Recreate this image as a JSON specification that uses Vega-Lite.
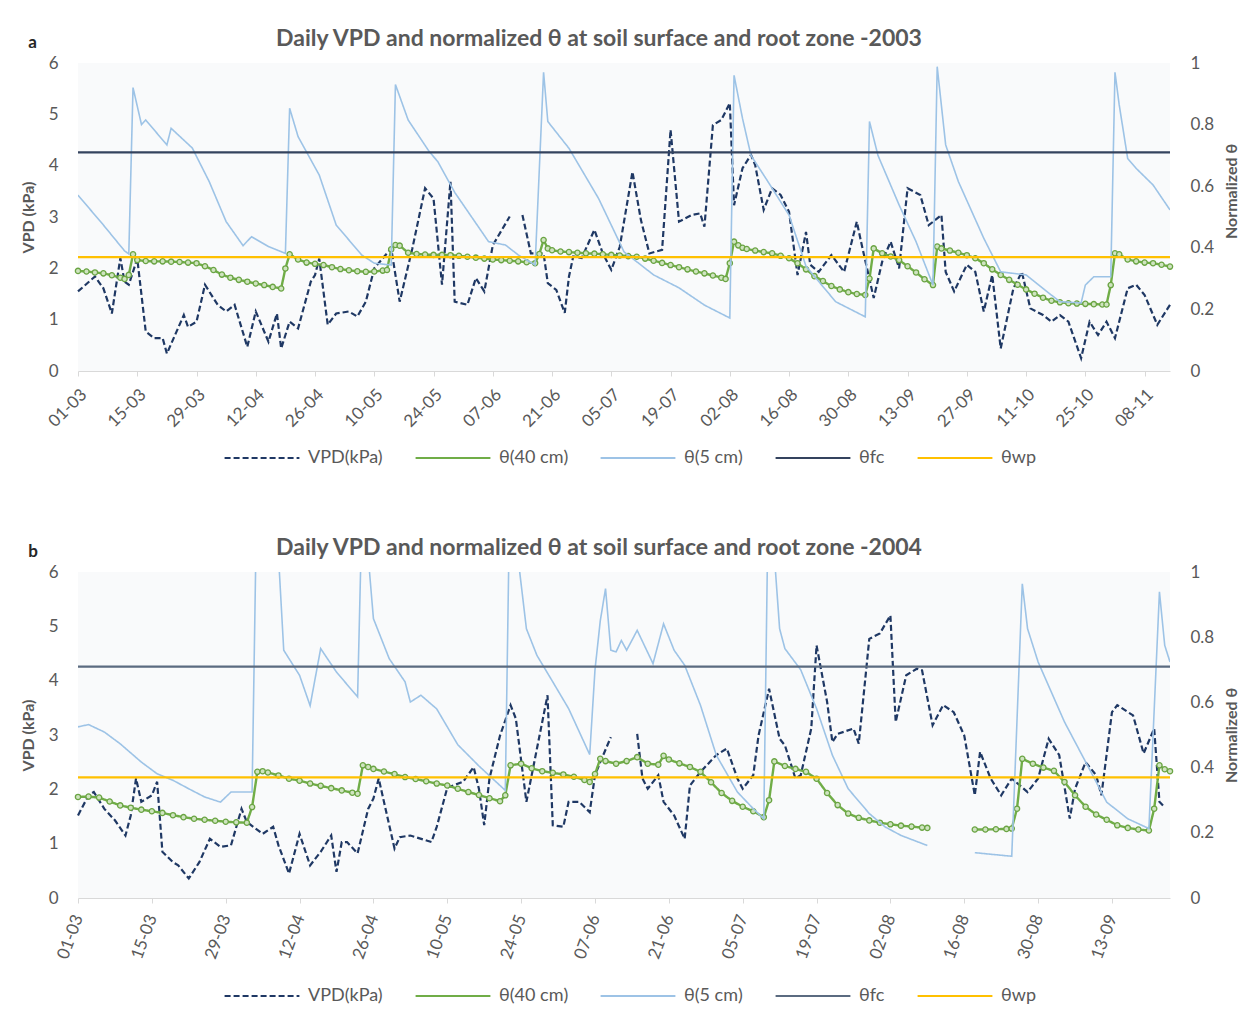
{
"$schema": "https://vega.github.io/schema/vega-lite/v6.json",
"background": "white",
"padding": {"left": 20, "right": 8, "top": 28, "bottom": 2},
"config": {
  "font": "Lato",
  "view": {"fill": "#f9fafb", "stroke": null},
  "axis": {"labelColor": "#595959", "titleColor": "#595959", "labelFontSize": 17, "titleFontSize": 16, "titleFontWeight": "bold", "grid": false, "labelFont": "Lato", "titleFont": "Lato"},
  "legend": {"orient": "bottom", "direction": "horizontal", "title": null, "symbolType": "stroke", "symbolSize": 5600, "symbolStrokeWidth": 2.2, "labelFontSize": 18, "labelColor": "#595959", "columnPadding": 28, "labelOffset": 7, "offset": 12, "labelFont": "Lato", "layout": {"bottom": {"anchor": "middle"}}},
  "title": {"font": "Lato", "fontSize": 23, "fontWeight": "bold", "color": "#595959", "anchor": "middle", "offset": 3},
  "concat": {"spacing": 70}
},
"datasets": {
"a": [
{"d":"2003-03-01","s":"V","v":1.55},{"d":"2003-03-05","s":"V","v":1.84},{"d":"2003-03-07","s":"V","v":1.61},{"d":"2003-03-09","s":"V","v":1.12},{"d":"2003-03-11","s":"V","v":2.2},{"d":"2003-03-12","s":"V","v":1.74},{"d":"2003-03-13","s":"V","v":1.68},{"d":"2003-03-15","s":"V","v":2.19},{"d":"2003-03-17","s":"V","v":0.77},{"d":"2003-03-19","s":"V","v":0.64},{"d":"2003-03-21","s":"V","v":0.64},{"d":"2003-03-22","s":"V","v":0.34},{"d":"2003-03-26","s":"V","v":1.09},{"d":"2003-03-27","s":"V","v":0.86},{"d":"2003-03-29","s":"V","v":0.96},{"d":"2003-03-31","s":"V","v":1.68},{"d":"2003-04-03","s":"V","v":1.29},{"d":"2003-04-05","s":"V","v":1.16},{"d":"2003-04-07","s":"V","v":1.29},{"d":"2003-04-10","s":"V","v":0.47},{"d":"2003-04-12","s":"V","v":1.16},{"d":"2003-04-15","s":"V","v":0.57},{"d":"2003-04-17","s":"V","v":1.12},{"d":"2003-04-18","s":"V","v":0.44},{"d":"2003-04-20","s":"V","v":0.96},{"d":"2003-04-22","s":"V","v":0.83},{"d":"2003-04-25","s":"V","v":1.74},{"d":"2003-04-26","s":"V","v":1.87},{"d":"2003-04-27","s":"V","v":2.19},{"d":"2003-04-29","s":"V","v":0.9},{"d":"2003-05-01","s":"V","v":1.12},{"d":"2003-05-04","s":"V","v":1.16},{"d":"2003-05-06","s":"V","v":1.06},{"d":"2003-05-08","s":"V","v":1.35},{"d":"2003-05-10","s":"V","v":2.0},{"d":"2003-05-14","s":"V","v":2.39},{"d":"2003-05-16","s":"V","v":1.35},{"d":"2003-05-19","s":"V","v":2.39},{"d":"2003-05-22","s":"V","v":3.56},{"d":"2003-05-24","s":"V","v":3.36},{"d":"2003-05-26","s":"V","v":1.68},{"d":"2003-05-28","s":"V","v":3.69},{"d":"2003-05-29","s":"V","v":1.35},{"d":"2003-06-01","s":"V","v":1.29},{"d":"2003-06-03","s":"V","v":1.81},{"d":"2003-06-05","s":"V","v":1.55},{"d":"2003-06-07","s":"V","v":2.45},{"d":"2003-06-11","s":"V","v":3.01},{"d":"2003-06-12","s":"V","v":null},{"d":"2003-06-14","s":"V","v":3.04},{"d":"2003-06-16","s":"V","v":2.29},{"d":"2003-06-19","s":"V","v":2.29},{"d":"2003-06-20","s":"V","v":1.71},{"d":"2003-06-22","s":"V","v":1.58},{"d":"2003-06-24","s":"V","v":1.13},{"d":"2003-06-25","s":"V","v":1.84},{"d":"2003-06-26","s":"V","v":2.23},{"d":"2003-06-28","s":"V","v":2.2},{"d":"2003-07-01","s":"V","v":2.75},{"d":"2003-07-03","s":"V","v":2.29},{"d":"2003-07-05","s":"V","v":1.97},{"d":"2003-07-07","s":"V","v":2.42},{"d":"2003-07-10","s":"V","v":3.88},{"d":"2003-07-12","s":"V","v":2.94},{"d":"2003-07-14","s":"V","v":2.29},{"d":"2003-07-17","s":"V","v":2.36},{"d":"2003-07-19","s":"V","v":4.7},{"d":"2003-07-21","s":"V","v":2.91},{"d":"2003-07-24","s":"V","v":3.04},{"d":"2003-07-26","s":"V","v":3.07},{"d":"2003-07-27","s":"V","v":2.81},{"d":"2003-07-29","s":"V","v":4.79},{"d":"2003-07-31","s":"V","v":4.89},{"d":"2003-08-02","s":"V","v":5.22},{"d":"2003-08-03","s":"V","v":3.23},{"d":"2003-08-05","s":"V","v":3.95},{"d":"2003-08-07","s":"V","v":4.21},{"d":"2003-08-08","s":"V","v":4.01},{"d":"2003-08-10","s":"V","v":3.14},{"d":"2003-08-12","s":"V","v":3.56},{"d":"2003-08-14","s":"V","v":3.43},{"d":"2003-08-16","s":"V","v":3.1},{"d":"2003-08-18","s":"V","v":1.87},{"d":"2003-08-20","s":"V","v":2.71},{"d":"2003-08-21","s":"V","v":2.07},{"d":"2003-08-23","s":"V","v":1.93},{"d":"2003-08-26","s":"V","v":2.26},{"d":"2003-08-29","s":"V","v":1.93},{"d":"2003-09-01","s":"V","v":2.91},{"d":"2003-09-02","s":"V","v":2.52},{"d":"2003-09-05","s":"V","v":1.42},{"d":"2003-09-07","s":"V","v":2.13},{"d":"2003-09-09","s":"V","v":2.52},{"d":"2003-09-11","s":"V","v":2.0},{"d":"2003-09-13","s":"V","v":3.56},{"d":"2003-09-16","s":"V","v":3.43},{"d":"2003-09-18","s":"V","v":2.84},{"d":"2003-09-21","s":"V","v":3.04},{"d":"2003-09-22","s":"V","v":1.93},{"d":"2003-09-24","s":"V","v":1.55},{"d":"2003-09-27","s":"V","v":2.07},{"d":"2003-09-29","s":"V","v":1.93},{"d":"2003-10-01","s":"V","v":1.16},{"d":"2003-10-03","s":"V","v":1.87},{"d":"2003-10-05","s":"V","v":0.44},{"d":"2003-10-08","s":"V","v":1.61},{"d":"2003-10-10","s":"V","v":1.93},{"d":"2003-10-12","s":"V","v":1.22},{"d":"2003-10-15","s":"V","v":1.09},{"d":"2003-10-17","s":"V","v":0.96},{"d":"2003-10-19","s":"V","v":1.09},{"d":"2003-10-21","s":"V","v":0.96},{"d":"2003-10-24","s":"V","v":0.25},{"d":"2003-10-26","s":"V","v":0.96},{"d":"2003-10-28","s":"V","v":0.7},{"d":"2003-10-30","s":"V","v":0.96},{"d":"2003-11-01","s":"V","v":0.64},{"d":"2003-11-04","s":"V","v":1.61},{"d":"2003-11-06","s":"V","v":1.68},{"d":"2003-11-08","s":"V","v":1.48},{"d":"2003-11-11","s":"V","v":0.9},{"d":"2003-11-14","s":"V","v":1.29},
{"d":"2003-03-01","s":"T5","v":0.571},{"d":"2003-03-07","s":"T5","v":0.474},{"d":"2003-03-12","s":"T5","v":0.39},{"d":"2003-03-13","s":"T5","v":0.38},{"d":"2003-03-14","s":"T5","v":0.92},{"d":"2003-03-16","s":"T5","v":0.8},{"d":"2003-03-17","s":"T5","v":0.815},{"d":"2003-03-22","s":"T5","v":0.734},{"d":"2003-03-23","s":"T5","v":0.788},{"d":"2003-03-28","s":"T5","v":0.724},{"d":"2003-04-01","s":"T5","v":0.615},{"d":"2003-04-05","s":"T5","v":0.485},{"d":"2003-04-09","s":"T5","v":0.407},{"d":"2003-04-11","s":"T5","v":0.436},{"d":"2003-04-15","s":"T5","v":0.404},{"d":"2003-04-19","s":"T5","v":0.382},{"d":"2003-04-20","s":"T5","v":0.853},{"d":"2003-04-22","s":"T5","v":0.761},{"d":"2003-04-27","s":"T5","v":0.636},{"d":"2003-05-01","s":"T5","v":0.474},{"d":"2003-05-07","s":"T5","v":0.377},{"d":"2003-05-10","s":"T5","v":0.35},{"d":"2003-05-14","s":"T5","v":0.344},{"d":"2003-05-15","s":"T5","v":0.93},{"d":"2003-05-18","s":"T5","v":0.815},{"d":"2003-05-23","s":"T5","v":0.712},{"d":"2003-05-25","s":"T5","v":0.68},{"d":"2003-05-29","s":"T5","v":0.58},{"d":"2003-06-06","s":"T5","v":0.42},{"d":"2003-06-10","s":"T5","v":0.409},{"d":"2003-06-13","s":"T5","v":0.377},{"d":"2003-06-17","s":"T5","v":0.344},{"d":"2003-06-19","s":"T5","v":0.97},{"d":"2003-06-20","s":"T5","v":0.81},{"d":"2003-06-25","s":"T5","v":0.723},{"d":"2003-07-02","s":"T5","v":0.56},{"d":"2003-07-08","s":"T5","v":0.387},{"d":"2003-07-15","s":"T5","v":0.312},{"d":"2003-07-21","s":"T5","v":0.27},{"d":"2003-07-27","s":"T5","v":0.214},{"d":"2003-08-02","s":"T5","v":0.172},{"d":"2003-08-03","s":"T5","v":0.96},{"d":"2003-08-05","s":"T5","v":0.82},{"d":"2003-08-07","s":"T5","v":0.7},{"d":"2003-08-11","s":"T5","v":0.615},{"d":"2003-08-16","s":"T5","v":0.506},{"d":"2003-08-20","s":"T5","v":0.34},{"d":"2003-08-27","s":"T5","v":0.225},{"d":"2003-09-03","s":"T5","v":0.176},{"d":"2003-09-04","s":"T5","v":0.81},{"d":"2003-09-06","s":"T5","v":0.7},{"d":"2003-09-11","s":"T5","v":0.539},{"d":"2003-09-15","s":"T5","v":0.42},{"d":"2003-09-19","s":"T5","v":0.279},{"d":"2003-09-20","s":"T5","v":0.988},{"d":"2003-09-22","s":"T5","v":0.734},{"d":"2003-09-25","s":"T5","v":0.615},{"d":"2003-10-01","s":"T5","v":0.431},{"d":"2003-10-05","s":"T5","v":0.322},{"d":"2003-10-11","s":"T5","v":0.312},{"d":"2003-10-16","s":"T5","v":0.257},{"d":"2003-10-19","s":"T5","v":0.225},{"d":"2003-10-24","s":"T5","v":0.221},{"d":"2003-10-25","s":"T5","v":0.279},{"d":"2003-10-27","s":"T5","v":0.306},{"d":"2003-10-31","s":"T5","v":0.306},{"d":"2003-11-01","s":"T5","v":0.97},{"d":"2003-11-02","s":"T5","v":0.864},{"d":"2003-11-04","s":"T5","v":0.69},{"d":"2003-11-06","s":"T5","v":0.658},{"d":"2003-11-10","s":"T5","v":0.604},{"d":"2003-11-14","s":"T5","v":0.523},
{"d":"2003-03-01","s":"T40","v":0.325},{"d":"2003-03-03","s":"T40","v":0.323},{"d":"2003-03-05","s":"T40","v":0.32},{"d":"2003-03-07","s":"T40","v":0.317},{"d":"2003-03-09","s":"T40","v":0.311},{"d":"2003-03-11","s":"T40","v":0.303},{"d":"2003-03-12","s":"T40","v":0.299},{"d":"2003-03-13","s":"T40","v":0.312},{"d":"2003-03-14","s":"T40","v":0.379},{"d":"2003-03-15","s":"T40","v":0.36},{"d":"2003-03-17","s":"T40","v":0.357},{"d":"2003-03-19","s":"T40","v":0.356},{"d":"2003-03-21","s":"T40","v":0.356},{"d":"2003-03-23","s":"T40","v":0.355},{"d":"2003-03-25","s":"T40","v":0.354},{"d":"2003-03-27","s":"T40","v":0.352},{"d":"2003-03-29","s":"T40","v":0.35},{"d":"2003-03-31","s":"T40","v":0.34},{"d":"2003-04-02","s":"T40","v":0.328},{"d":"2003-04-04","s":"T40","v":0.313},{"d":"2003-04-06","s":"T40","v":0.303},{"d":"2003-04-08","s":"T40","v":0.296},{"d":"2003-04-10","s":"T40","v":0.29},{"d":"2003-04-12","s":"T40","v":0.284},{"d":"2003-04-14","s":"T40","v":0.279},{"d":"2003-04-16","s":"T40","v":0.273},{"d":"2003-04-18","s":"T40","v":0.268},{"d":"2003-04-19","s":"T40","v":0.333},{"d":"2003-04-20","s":"T40","v":0.379},{"d":"2003-04-22","s":"T40","v":0.362},{"d":"2003-04-24","s":"T40","v":0.352},{"d":"2003-04-26","s":"T40","v":0.348},{"d":"2003-04-28","s":"T40","v":0.344},{"d":"2003-04-30","s":"T40","v":0.337},{"d":"2003-05-02","s":"T40","v":0.331},{"d":"2003-05-04","s":"T40","v":0.327},{"d":"2003-05-06","s":"T40","v":0.324},{"d":"2003-05-08","s":"T40","v":0.322},{"d":"2003-05-10","s":"T40","v":0.323},{"d":"2003-05-12","s":"T40","v":0.326},{"d":"2003-05-13","s":"T40","v":0.328},{"d":"2003-05-14","s":"T40","v":0.395},{"d":"2003-05-15","s":"T40","v":0.409},{"d":"2003-05-16","s":"T40","v":0.407},{"d":"2003-05-18","s":"T40","v":0.384},{"d":"2003-05-20","s":"T40","v":0.38},{"d":"2003-05-22","s":"T40","v":0.378},{"d":"2003-05-24","s":"T40","v":0.377},{"d":"2003-05-26","s":"T40","v":0.377},{"d":"2003-05-28","s":"T40","v":0.376},{"d":"2003-05-30","s":"T40","v":0.374},{"d":"2003-06-01","s":"T40","v":0.371},{"d":"2003-06-03","s":"T40","v":0.368},{"d":"2003-06-05","s":"T40","v":0.365},{"d":"2003-06-07","s":"T40","v":0.362},{"d":"2003-06-09","s":"T40","v":0.36},{"d":"2003-06-11","s":"T40","v":0.358},{"d":"2003-06-13","s":"T40","v":0.356},{"d":"2003-06-15","s":"T40","v":0.353},{"d":"2003-06-17","s":"T40","v":0.35},{"d":"2003-06-18","s":"T40","v":0.38},{"d":"2003-06-19","s":"T40","v":0.425},{"d":"2003-06-20","s":"T40","v":0.398},{"d":"2003-06-21","s":"T40","v":0.392},{"d":"2003-06-23","s":"T40","v":0.388},{"d":"2003-06-25","s":"T40","v":0.386},{"d":"2003-06-27","s":"T40","v":0.384},{"d":"2003-06-29","s":"T40","v":0.382},{"d":"2003-07-01","s":"T40","v":0.381},{"d":"2003-07-03","s":"T40","v":0.379},{"d":"2003-07-05","s":"T40","v":0.377},{"d":"2003-07-07","s":"T40","v":0.375},{"d":"2003-07-09","s":"T40","v":0.373},{"d":"2003-07-11","s":"T40","v":0.371},{"d":"2003-07-13","s":"T40","v":0.365},{"d":"2003-07-15","s":"T40","v":0.358},{"d":"2003-07-17","s":"T40","v":0.351},{"d":"2003-07-19","s":"T40","v":0.344},{"d":"2003-07-21","s":"T40","v":0.337},{"d":"2003-07-23","s":"T40","v":0.33},{"d":"2003-07-25","s":"T40","v":0.323},{"d":"2003-07-27","s":"T40","v":0.317},{"d":"2003-07-29","s":"T40","v":0.31},{"d":"2003-07-31","s":"T40","v":0.303},{"d":"2003-08-01","s":"T40","v":0.299},{"d":"2003-08-02","s":"T40","v":0.35},{"d":"2003-08-03","s":"T40","v":0.42},{"d":"2003-08-04","s":"T40","v":0.408},{"d":"2003-08-05","s":"T40","v":0.4},{"d":"2003-08-06","s":"T40","v":0.396},{"d":"2003-08-08","s":"T40","v":0.391},{"d":"2003-08-10","s":"T40","v":0.386},{"d":"2003-08-12","s":"T40","v":0.382},{"d":"2003-08-14","s":"T40","v":0.374},{"d":"2003-08-16","s":"T40","v":0.366},{"d":"2003-08-18","s":"T40","v":0.35},{"d":"2003-08-20","s":"T40","v":0.33},{"d":"2003-08-22","s":"T40","v":0.308},{"d":"2003-08-24","s":"T40","v":0.292},{"d":"2003-08-26","s":"T40","v":0.276},{"d":"2003-08-28","s":"T40","v":0.265},{"d":"2003-08-30","s":"T40","v":0.256},{"d":"2003-09-01","s":"T40","v":0.25},{"d":"2003-09-03","s":"T40","v":0.247},{"d":"2003-09-04","s":"T40","v":0.3},{"d":"2003-09-05","s":"T40","v":0.398},{"d":"2003-09-07","s":"T40","v":0.382},{"d":"2003-09-09","s":"T40","v":0.372},{"d":"2003-09-11","s":"T40","v":0.36},{"d":"2003-09-13","s":"T40","v":0.34},{"d":"2003-09-15","s":"T40","v":0.32},{"d":"2003-09-17","s":"T40","v":0.298},{"d":"2003-09-19","s":"T40","v":0.279},{"d":"2003-09-20","s":"T40","v":0.404},{"d":"2003-09-21","s":"T40","v":0.398},{"d":"2003-09-23","s":"T40","v":0.391},{"d":"2003-09-25","s":"T40","v":0.384},{"d":"2003-09-27","s":"T40","v":0.376},{"d":"2003-09-29","s":"T40","v":0.366},{"d":"2003-10-01","s":"T40","v":0.35},{"d":"2003-10-03","s":"T40","v":0.33},{"d":"2003-10-05","s":"T40","v":0.312},{"d":"2003-10-07","s":"T40","v":0.296},{"d":"2003-10-09","s":"T40","v":0.28},{"d":"2003-10-11","s":"T40","v":0.265},{"d":"2003-10-13","s":"T40","v":0.251},{"d":"2003-10-15","s":"T40","v":0.238},{"d":"2003-10-17","s":"T40","v":0.228},{"d":"2003-10-19","s":"T40","v":0.223},{"d":"2003-10-21","s":"T40","v":0.22},{"d":"2003-10-23","s":"T40","v":0.219},{"d":"2003-10-25","s":"T40","v":0.218},{"d":"2003-10-27","s":"T40","v":0.217},{"d":"2003-10-29","s":"T40","v":0.216},{"d":"2003-10-30","s":"T40","v":0.216},{"d":"2003-10-31","s":"T40","v":0.279},{"d":"2003-11-01","s":"T40","v":0.382},{"d":"2003-11-02","s":"T40","v":0.379},{"d":"2003-11-04","s":"T40","v":0.362},{"d":"2003-11-06","s":"T40","v":0.356},{"d":"2003-11-08","s":"T40","v":0.352},{"d":"2003-11-10","s":"T40","v":0.35},{"d":"2003-11-12","s":"T40","v":0.345},{"d":"2003-11-14","s":"T40","v":0.339},
{"s":"fc","v":0.71},{"s":"wp","v":0.37}
],
"b": [
{"d":"2004-03-01","s":"V","v":1.52},{"d":"2004-03-03","s":"V","v":1.89},{"d":"2004-03-04","s":"V","v":1.95},{"d":"2004-03-06","s":"V","v":1.64},{"d":"2004-03-08","s":"V","v":1.43},{"d":"2004-03-10","s":"V","v":1.15},{"d":"2004-03-11","s":"V","v":1.52},{"d":"2004-03-12","s":"V","v":2.2},{"d":"2004-03-13","s":"V","v":1.77},{"d":"2004-03-15","s":"V","v":1.89},{"d":"2004-03-16","s":"V","v":2.14},{"d":"2004-03-17","s":"V","v":0.85},{"d":"2004-03-19","s":"V","v":0.66},{"d":"2004-03-20","s":"V","v":0.6},{"d":"2004-03-22","s":"V","v":0.36},{"d":"2004-03-24","s":"V","v":0.66},{"d":"2004-03-26","s":"V","v":1.09},{"d":"2004-03-28","s":"V","v":0.94},{"d":"2004-03-30","s":"V","v":0.97},{"d":"2004-04-01","s":"V","v":1.64},{"d":"2004-04-02","s":"V","v":1.4},{"d":"2004-04-05","s":"V","v":1.18},{"d":"2004-04-07","s":"V","v":1.31},{"d":"2004-04-08","s":"V","v":0.97},{"d":"2004-04-10","s":"V","v":0.45},{"d":"2004-04-12","s":"V","v":1.18},{"d":"2004-04-14","s":"V","v":0.6},{"d":"2004-04-16","s":"V","v":0.85},{"d":"2004-04-18","s":"V","v":1.15},{"d":"2004-04-19","s":"V","v":0.48},{"d":"2004-04-20","s":"V","v":1.03},{"d":"2004-04-21","s":"V","v":1.03},{"d":"2004-04-23","s":"V","v":0.82},{"d":"2004-04-25","s":"V","v":1.64},{"d":"2004-04-26","s":"V","v":1.83},{"d":"2004-04-27","s":"V","v":2.2},{"d":"2004-04-30","s":"V","v":0.91},{"d":"2004-05-01","s":"V","v":1.12},{"d":"2004-05-03","s":"V","v":1.15},{"d":"2004-05-04","s":"V","v":1.12},{"d":"2004-05-07","s":"V","v":1.03},{"d":"2004-05-08","s":"V","v":1.31},{"d":"2004-05-10","s":"V","v":2.03},{"d":"2004-05-13","s":"V","v":2.14},{"d":"2004-05-15","s":"V","v":2.41},{"d":"2004-05-16","s":"V","v":2.01},{"d":"2004-05-17","s":"V","v":1.34},{"d":"2004-05-18","s":"V","v":2.2},{"d":"2004-05-20","s":"V","v":2.99},{"d":"2004-05-22","s":"V","v":3.55},{"d":"2004-05-23","s":"V","v":3.3},{"d":"2004-05-25","s":"V","v":1.77},{"d":"2004-05-27","s":"V","v":2.75},{"d":"2004-05-29","s":"V","v":3.73},{"d":"2004-05-30","s":"V","v":1.34},{"d":"2004-06-01","s":"V","v":1.31},{"d":"2004-06-02","s":"V","v":1.77},{"d":"2004-06-04","s":"V","v":1.77},{"d":"2004-06-06","s":"V","v":1.58},{"d":"2004-06-07","s":"V","v":2.26},{"d":"2004-06-08","s":"V","v":2.5},{"d":"2004-06-10","s":"V","v":2.96},{"d":"2004-06-11","s":"V","v":null},{"d":"2004-06-15","s":"V","v":3.02},{"d":"2004-06-16","s":"V","v":2.2},{"d":"2004-06-17","s":"V","v":2.01},{"d":"2004-06-19","s":"V","v":2.26},{"d":"2004-06-20","s":"V","v":1.77},{"d":"2004-06-22","s":"V","v":1.52},{"d":"2004-06-24","s":"V","v":1.09},{"d":"2004-06-25","s":"V","v":2.07},{"d":"2004-06-27","s":"V","v":2.32},{"d":"2004-06-30","s":"V","v":2.63},{"d":"2004-07-02","s":"V","v":2.75},{"d":"2004-07-04","s":"V","v":2.2},{"d":"2004-07-05","s":"V","v":2.01},{"d":"2004-07-07","s":"V","v":2.26},{"d":"2004-07-08","s":"V","v":2.99},{"d":"2004-07-10","s":"V","v":3.85},{"d":"2004-07-12","s":"V","v":2.93},{"d":"2004-07-13","s":"V","v":2.81},{"d":"2004-07-15","s":"V","v":2.2},{"d":"2004-07-16","s":"V","v":2.26},{"d":"2004-07-18","s":"V","v":3.12},{"d":"2004-07-19","s":"V","v":4.65},{"d":"2004-07-21","s":"V","v":3.61},{"d":"2004-07-22","s":"V","v":2.87},{"d":"2004-07-23","s":"V","v":3.02},{"d":"2004-07-26","s":"V","v":3.12},{"d":"2004-07-27","s":"V","v":2.84},{"d":"2004-07-29","s":"V","v":4.77},{"d":"2004-07-31","s":"V","v":4.87},{"d":"2004-08-02","s":"V","v":5.2},{"d":"2004-08-03","s":"V","v":3.24},{"d":"2004-08-05","s":"V","v":4.1},{"d":"2004-08-07","s":"V","v":4.22},{"d":"2004-08-08","s":"V","v":4.19},{"d":"2004-08-10","s":"V","v":3.18},{"d":"2004-08-12","s":"V","v":3.55},{"d":"2004-08-14","s":"V","v":3.42},{"d":"2004-08-16","s":"V","v":2.99},{"d":"2004-08-18","s":"V","v":1.89},{"d":"2004-08-19","s":"V","v":2.69},{"d":"2004-08-21","s":"V","v":2.2},{"d":"2004-08-23","s":"V","v":1.89},{"d":"2004-08-25","s":"V","v":2.2},{"d":"2004-08-28","s":"V","v":1.95},{"d":"2004-08-30","s":"V","v":2.2},{"d":"2004-09-01","s":"V","v":2.93},{"d":"2004-09-03","s":"V","v":2.63},{"d":"2004-09-05","s":"V","v":1.46},{"d":"2004-09-06","s":"V","v":2.01},{"d":"2004-09-08","s":"V","v":2.5},{"d":"2004-09-10","s":"V","v":2.26},{"d":"2004-09-11","s":"V","v":1.89},{"d":"2004-09-13","s":"V","v":3.42},{"d":"2004-09-14","s":"V","v":3.55},{"d":"2004-09-17","s":"V","v":3.36},{"d":"2004-09-19","s":"V","v":2.66},{"d":"2004-09-21","s":"V","v":3.12},{"d":"2004-09-22","s":"V","v":1.77},{"d":"2004-09-23","s":"V","v":1.67},
{"d":"2004-03-01","s":"T5","v":0.525},{"d":"2004-03-03","s":"T5","v":0.532},{"d":"2004-03-06","s":"T5","v":0.509},{"d":"2004-03-09","s":"T5","v":0.473},{"d":"2004-03-13","s":"T5","v":0.417},{"d":"2004-03-16","s":"T5","v":0.381},{"d":"2004-03-19","s":"T5","v":0.361},{"d":"2004-03-22","s":"T5","v":0.335},{"d":"2004-03-25","s":"T5","v":0.31},{"d":"2004-03-28","s":"T5","v":0.294},{"d":"2004-03-30","s":"T5","v":0.325},{"d":"2004-04-03","s":"T5","v":0.325},{"d":"2004-04-04","s":"T5","v":1.35},{"d":"2004-04-06","s":"T5","v":1.25},{"d":"2004-04-08","s":"T5","v":1.05},{"d":"2004-04-09","s":"T5","v":0.76},{"d":"2004-04-12","s":"T5","v":0.683},{"d":"2004-04-14","s":"T5","v":0.59},{"d":"2004-04-16","s":"T5","v":0.765},{"d":"2004-04-19","s":"T5","v":0.693},{"d":"2004-04-23","s":"T5","v":0.617},{"d":"2004-04-24","s":"T5","v":1.3},{"d":"2004-04-25","s":"T5","v":1.05},{"d":"2004-04-26","s":"T5","v":0.857},{"d":"2004-04-29","s":"T5","v":0.734},{"d":"2004-05-02","s":"T5","v":0.663},{"d":"2004-05-03","s":"T5","v":0.601},{"d":"2004-05-05","s":"T5","v":0.622},{"d":"2004-05-08","s":"T5","v":0.58},{"d":"2004-05-12","s":"T5","v":0.47},{"d":"2004-05-16","s":"T5","v":0.405},{"d":"2004-05-20","s":"T5","v":0.345},{"d":"2004-05-21","s":"T5","v":0.33},{"d":"2004-05-22","s":"T5","v":1.4},{"d":"2004-05-23","s":"T5","v":1.1},{"d":"2004-05-25","s":"T5","v":0.826},{"d":"2004-05-27","s":"T5","v":0.744},{"d":"2004-05-30","s":"T5","v":0.663},{"d":"2004-06-02","s":"T5","v":0.581},{"d":"2004-06-06","s":"T5","v":0.44},{"d":"2004-06-07","s":"T5","v":0.7},{"d":"2004-06-08","s":"T5","v":0.85},{"d":"2004-06-09","s":"T5","v":0.949},{"d":"2004-06-10","s":"T5","v":0.76},{"d":"2004-06-11","s":"T5","v":0.755},{"d":"2004-06-12","s":"T5","v":0.79},{"d":"2004-06-13","s":"T5","v":0.76},{"d":"2004-06-15","s":"T5","v":0.821},{"d":"2004-06-18","s":"T5","v":0.719},{"d":"2004-06-20","s":"T5","v":0.841},{"d":"2004-06-22","s":"T5","v":0.76},{"d":"2004-06-24","s":"T5","v":0.714},{"d":"2004-06-27","s":"T5","v":0.591},{"d":"2004-06-30","s":"T5","v":0.438},{"d":"2004-07-04","s":"T5","v":0.325},{"d":"2004-07-07","s":"T5","v":0.274},{"d":"2004-07-09","s":"T5","v":0.243},{"d":"2004-07-10","s":"T5","v":1.4},{"d":"2004-07-11","s":"T5","v":1.05},{"d":"2004-07-12","s":"T5","v":0.826},{"d":"2004-07-13","s":"T5","v":0.765},{"d":"2004-07-16","s":"T5","v":0.7},{"d":"2004-07-19","s":"T5","v":0.581},{"d":"2004-07-22","s":"T5","v":0.438},{"d":"2004-07-25","s":"T5","v":0.335},{"d":"2004-07-29","s":"T5","v":0.259},{"d":"2004-08-01","s":"T5","v":0.218},{"d":"2004-08-04","s":"T5","v":0.192},{"d":"2004-08-09","s":"T5","v":0.161},{"d":"2004-08-10","s":"T5","v":null},{"d":"2004-08-18","s":"T5","v":0.139},{"d":"2004-08-25","s":"T5","v":0.128},{"d":"2004-08-27","s":"T5","v":0.964},{"d":"2004-08-28","s":"T5","v":0.826},{"d":"2004-08-30","s":"T5","v":0.724},{"d":"2004-09-04","s":"T5","v":0.54},{"d":"2004-09-09","s":"T5","v":0.387},{"d":"2004-09-12","s":"T5","v":0.294},{"d":"2004-09-16","s":"T5","v":0.243},{"d":"2004-09-20","s":"T5","v":0.213},{"d":"2004-09-22","s":"T5","v":0.939},{"d":"2004-09-23","s":"T5","v":0.775},{"d":"2004-09-24","s":"T5","v":0.724},
{"d":"2004-03-01","s":"T40","v":0.31},{"d":"2004-03-03","s":"T40","v":0.311},{"d":"2004-03-05","s":"T40","v":0.308},{"d":"2004-03-07","s":"T40","v":0.296},{"d":"2004-03-09","s":"T40","v":0.284},{"d":"2004-03-11","s":"T40","v":0.277},{"d":"2004-03-13","s":"T40","v":0.271},{"d":"2004-03-15","s":"T40","v":0.266},{"d":"2004-03-17","s":"T40","v":0.261},{"d":"2004-03-19","s":"T40","v":0.254},{"d":"2004-03-21","s":"T40","v":0.248},{"d":"2004-03-23","s":"T40","v":0.243},{"d":"2004-03-25","s":"T40","v":0.24},{"d":"2004-03-27","s":"T40","v":0.237},{"d":"2004-03-29","s":"T40","v":0.234},{"d":"2004-03-31","s":"T40","v":0.232},{"d":"2004-04-02","s":"T40","v":0.231},{"d":"2004-04-03","s":"T40","v":0.279},{"d":"2004-04-04","s":"T40","v":0.387},{"d":"2004-04-05","s":"T40","v":0.389},{"d":"2004-04-06","s":"T40","v":0.385},{"d":"2004-04-08","s":"T40","v":0.376},{"d":"2004-04-10","s":"T40","v":0.366},{"d":"2004-04-12","s":"T40","v":0.36},{"d":"2004-04-14","s":"T40","v":0.351},{"d":"2004-04-16","s":"T40","v":0.344},{"d":"2004-04-18","s":"T40","v":0.337},{"d":"2004-04-20","s":"T40","v":0.33},{"d":"2004-04-22","s":"T40","v":0.323},{"d":"2004-04-23","s":"T40","v":0.32},{"d":"2004-04-24","s":"T40","v":0.407},{"d":"2004-04-25","s":"T40","v":0.402},{"d":"2004-04-26","s":"T40","v":0.396},{"d":"2004-04-28","s":"T40","v":0.388},{"d":"2004-04-30","s":"T40","v":0.38},{"d":"2004-05-02","s":"T40","v":0.371},{"d":"2004-05-04","s":"T40","v":0.365},{"d":"2004-05-06","s":"T40","v":0.358},{"d":"2004-05-08","s":"T40","v":0.351},{"d":"2004-05-10","s":"T40","v":0.345},{"d":"2004-05-12","s":"T40","v":0.335},{"d":"2004-05-14","s":"T40","v":0.325},{"d":"2004-05-16","s":"T40","v":0.316},{"d":"2004-05-18","s":"T40","v":0.306},{"d":"2004-05-20","s":"T40","v":0.297},{"d":"2004-05-21","s":"T40","v":0.315},{"d":"2004-05-22","s":"T40","v":0.407},{"d":"2004-05-24","s":"T40","v":0.412},{"d":"2004-05-26","s":"T40","v":0.398},{"d":"2004-05-28","s":"T40","v":0.389},{"d":"2004-05-30","s":"T40","v":0.384},{"d":"2004-06-01","s":"T40","v":0.379},{"d":"2004-06-03","s":"T40","v":0.372},{"d":"2004-06-05","s":"T40","v":0.362},{"d":"2004-06-06","s":"T40","v":0.356},{"d":"2004-06-07","s":"T40","v":0.38},{"d":"2004-06-08","s":"T40","v":0.427},{"d":"2004-06-09","s":"T40","v":0.42},{"d":"2004-06-11","s":"T40","v":0.412},{"d":"2004-06-13","s":"T40","v":0.42},{"d":"2004-06-15","s":"T40","v":0.432},{"d":"2004-06-17","s":"T40","v":0.412},{"d":"2004-06-19","s":"T40","v":0.409},{"d":"2004-06-20","s":"T40","v":0.436},{"d":"2004-06-21","s":"T40","v":0.425},{"d":"2004-06-23","s":"T40","v":0.413},{"d":"2004-06-25","s":"T40","v":0.402},{"d":"2004-06-27","s":"T40","v":0.387},{"d":"2004-06-29","s":"T40","v":0.355},{"d":"2004-07-01","s":"T40","v":0.322},{"d":"2004-07-03","s":"T40","v":0.298},{"d":"2004-07-05","s":"T40","v":0.28},{"d":"2004-07-07","s":"T40","v":0.266},{"d":"2004-07-09","s":"T40","v":0.248},{"d":"2004-07-10","s":"T40","v":0.3},{"d":"2004-07-11","s":"T40","v":0.419},{"d":"2004-07-13","s":"T40","v":0.405},{"d":"2004-07-15","s":"T40","v":0.396},{"d":"2004-07-17","s":"T40","v":0.387},{"d":"2004-07-19","s":"T40","v":0.366},{"d":"2004-07-21","s":"T40","v":0.322},{"d":"2004-07-23","s":"T40","v":0.285},{"d":"2004-07-25","s":"T40","v":0.259},{"d":"2004-07-27","s":"T40","v":0.246},{"d":"2004-07-29","s":"T40","v":0.238},{"d":"2004-07-31","s":"T40","v":0.231},{"d":"2004-08-02","s":"T40","v":0.226},{"d":"2004-08-04","s":"T40","v":0.222},{"d":"2004-08-06","s":"T40","v":0.219},{"d":"2004-08-08","s":"T40","v":0.216},{"d":"2004-08-09","s":"T40","v":0.215},{"d":"2004-08-10","s":"T40","v":null},{"d":"2004-08-18","s":"T40","v":0.21},{"d":"2004-08-20","s":"T40","v":0.21},{"d":"2004-08-22","s":"T40","v":0.211},{"d":"2004-08-24","s":"T40","v":0.212},{"d":"2004-08-25","s":"T40","v":0.213},{"d":"2004-08-26","s":"T40","v":0.274},{"d":"2004-08-27","s":"T40","v":0.427},{"d":"2004-08-29","s":"T40","v":0.412},{"d":"2004-08-31","s":"T40","v":0.4},{"d":"2004-09-02","s":"T40","v":0.39},{"d":"2004-09-04","s":"T40","v":0.356},{"d":"2004-09-06","s":"T40","v":0.315},{"d":"2004-09-08","s":"T40","v":0.28},{"d":"2004-09-10","s":"T40","v":0.256},{"d":"2004-09-12","s":"T40","v":0.24},{"d":"2004-09-14","s":"T40","v":0.223},{"d":"2004-09-16","s":"T40","v":0.215},{"d":"2004-09-18","s":"T40","v":0.21},{"d":"2004-09-20","s":"T40","v":0.207},{"d":"2004-09-21","s":"T40","v":0.274},{"d":"2004-09-22","s":"T40","v":0.407},{"d":"2004-09-23","s":"T40","v":0.395},{"d":"2004-09-24","s":"T40","v":0.389},
{"s":"fc","v":0.71},{"s":"wp","v":0.37}
]
},
"vconcat": [
{
 "title": {"text": "a", "anchor": "start", "fontSize": 17, "color": "#262626", "dy": 24, "dx": 8, "offset": 0},
 "vconcat": [{
  "title": {"text": "Daily VPD and normalized θ at soil surface and root zone -2003", "dx": -25},
  "width": 1092, "height": 308,
  "data": {"name": "a"},
  "layer": [
   {"transform": [{"filter": "datum.s == 'V'"}],
    "mark": {"type": "line", "strokeWidth": 2.2},
    "encoding": {
     "x": {"field": "d", "type": "temporal", "scale": {"type": "utc", "domain": ["2003-03-01", "2003-11-14"], "nice": false},
       "axis": {"values": ["2003-03-01","2003-03-15","2003-03-29","2003-04-12","2003-04-26","2003-05-10","2003-05-24","2003-06-07","2003-06-21","2003-07-05","2003-07-19","2003-08-02","2003-08-16","2003-08-30","2003-09-13","2003-09-27","2003-10-11","2003-10-25","2003-11-08"], "format": "%d-%m", "labelAngle": -45, "title": null, "domainColor": "#d9d9d9", "tickColor": "#d9d9d9", "tickSize": 5, "labelFontSize": 17, "labelPadding": 10}},
     "y": {"field": "v", "type": "quantitative", "scale": {"domain": [0, 6], "nice": false}, "axis": {"title": "VPD (kPa)", "values": [0,1,2,3,4,5,6], "domain": false, "ticks": false, "tickSize": 0, "labelPadding": 20, "titlePadding": 12}},
     "color": {"field": "s", "type": "nominal", "scale": {"domain": ["V","T40","T5","fc","wp"], "range": ["#1f3864","#70ad47","#9dc3e6","#34435e","#ffc000"]}, "legend": {"offset": -11, "labelExpr": "datum.label == 'V' ? 'VPD(kPa)' : datum.label == 'T40' ? 'θ(40 cm)' : datum.label == 'T5' ? 'θ(5 cm)' : datum.label == 'fc' ? 'θfc' : 'θwp'"}},
     "strokeDash": {"field": "s", "type": "nominal", "scale": {"domain": ["V","T40","T5","fc","wp"], "range": [[6,3],[1,0],[1,0],[1,0],[1,0]]}, "legend": {"offset": -11, "labelExpr": "datum.label == 'V' ? 'VPD(kPa)' : datum.label == 'T40' ? 'θ(40 cm)' : datum.label == 'T5' ? 'θ(5 cm)' : datum.label == 'fc' ? 'θfc' : 'θwp'"}}
    }},
   {"encoding": {"y": {"field": "v", "type": "quantitative", "scale": {"domain": [0, 1], "nice": false}, "axis": {"orient": "right", "title": "Normalized θ", "titleAngle": 270, "titleBaseline": "top", "titleY": 128, "values": [0,0.2,0.4,0.6,0.8,1], "format": "~g", "domain": false, "ticks": false, "tickSize": 0, "labelPadding": 20, "titlePadding": 10}}},
    "layer": [
     {"transform": [{"filter": "datum.s == 'T40'"}], "mark": {"type": "line", "strokeWidth": 2.4},
      "encoding": {"x": {"field": "d", "type": "temporal"}, "color": {"field": "s", "type": "nominal"}, "strokeDash": {"field": "s", "type": "nominal"}}},
     {"transform": [{"filter": "datum.s == 'T40' && datum.v != null"}], "mark": {"type": "point", "shape": "circle", "filled": true, "fill": "#cfe4c0", "stroke": "#6aa443", "strokeWidth": 1.3, "size": 28, "opacity": 1},
      "encoding": {"x": {"field": "d", "type": "temporal"}}},
     {"transform": [{"filter": "datum.s == 'T5'"}], "mark": {"type": "line", "strokeWidth": 1.6, "clip": true},
      "encoding": {"x": {"field": "d", "type": "temporal"}, "color": {"field": "s", "type": "nominal"}, "strokeDash": {"field": "s", "type": "nominal"}}},
     {"transform": [{"filter": "datum.s == 'fc' || datum.s == 'wp'"}], "mark": {"type": "rule", "strokeWidth": 2.2},
      "encoding": {"color": {"field": "s", "type": "nominal"}, "strokeDash": {"field": "s", "type": "nominal"}}}
    ]}
  ],
  "resolve": {"scale": {"y": "independent"}}
 }]
},
{
 "title": {"text": "b", "anchor": "start", "fontSize": 17, "color": "#262626", "dy": 24, "dx": 8, "offset": 0},
 "vconcat": [{
  "title": {"text": "Daily VPD and normalized θ at soil surface and root zone -2004", "dx": -25},
  "width": 1092, "height": 326,
  "data": {"name": "b"},
  "layer": [
   {"transform": [{"filter": "datum.s == 'V'"}],
    "mark": {"type": "line", "strokeWidth": 2.2},
    "encoding": {
     "x": {"field": "d", "type": "temporal", "scale": {"type": "utc", "domain": ["2004-03-01", "2004-09-24"], "nice": false},
       "axis": {"values": ["2004-03-01","2004-03-15","2004-03-29","2004-04-12","2004-04-26","2004-05-10","2004-05-24","2004-06-07","2004-06-21","2004-07-05","2004-07-19","2004-08-02","2004-08-16","2004-08-30","2004-09-13"], "format": "%d-%m", "labelAngle": -70, "title": null, "domainColor": "#d9d9d9", "tickColor": "#d9d9d9", "tickSize": 5, "labelFontSize": 17, "labelPadding": 12}},
     "y": {"field": "v", "type": "quantitative", "scale": {"domain": [0, 6], "nice": false}, "axis": {"title": "VPD (kPa)", "values": [0,1,2,3,4,5,6], "domain": false, "ticks": false, "tickSize": 0, "labelPadding": 20, "titlePadding": 12}},
     "color": {"field": "s", "type": "nominal", "scale": {"domain": ["V","T40","T5","fc","wp"], "range": ["#1f3864","#70ad47","#9dc3e6","#5b6b80","#ffc000"]}, "legend": {"offset": -4, "labelExpr": "datum.label == 'V' ? 'VPD(kPa)' : datum.label == 'T40' ? 'θ(40 cm)' : datum.label == 'T5' ? 'θ(5 cm)' : datum.label == 'fc' ? 'θfc' : 'θwp'"}},
     "strokeDash": {"field": "s", "type": "nominal", "scale": {"domain": ["V","T40","T5","fc","wp"], "range": [[6,3],[1,0],[1,0],[1,0],[1,0]]}, "legend": {"offset": -4, "labelExpr": "datum.label == 'V' ? 'VPD(kPa)' : datum.label == 'T40' ? 'θ(40 cm)' : datum.label == 'T5' ? 'θ(5 cm)' : datum.label == 'fc' ? 'θfc' : 'θwp'"}}
    }},
   {"encoding": {"y": {"field": "v", "type": "quantitative", "scale": {"domain": [0, 1], "nice": false}, "axis": {"orient": "right", "title": "Normalized θ", "titleAngle": 270, "titleBaseline": "top", "values": [0,0.2,0.4,0.6,0.8,1], "format": "~g", "domain": false, "ticks": false, "tickSize": 0, "labelPadding": 20, "titlePadding": 10}}},
    "layer": [
     {"transform": [{"filter": "datum.s == 'T40'"}], "mark": {"type": "line", "strokeWidth": 2.4},
      "encoding": {"x": {"field": "d", "type": "temporal"}, "color": {"field": "s", "type": "nominal"}, "strokeDash": {"field": "s", "type": "nominal"}}},
     {"transform": [{"filter": "datum.s == 'T40' && datum.v != null"}], "mark": {"type": "point", "shape": "circle", "filled": true, "fill": "#cfe4c0", "stroke": "#6aa443", "strokeWidth": 1.3, "size": 28, "opacity": 1},
      "encoding": {"x": {"field": "d", "type": "temporal"}}},
     {"transform": [{"filter": "datum.s == 'T5'"}], "mark": {"type": "line", "strokeWidth": 1.6, "clip": true},
      "encoding": {"x": {"field": "d", "type": "temporal"}, "color": {"field": "s", "type": "nominal"}, "strokeDash": {"field": "s", "type": "nominal"}}},
     {"transform": [{"filter": "datum.s == 'fc' || datum.s == 'wp'"}], "mark": {"type": "rule", "strokeWidth": 2.2},
      "encoding": {"color": {"field": "s", "type": "nominal"}, "strokeDash": {"field": "s", "type": "nominal"}}}
    ]}
  ],
  "resolve": {"scale": {"y": "independent"}}
 }]
}
],
"resolve": {"scale": {"color": "independent", "strokeDash": "independent"}}
}
